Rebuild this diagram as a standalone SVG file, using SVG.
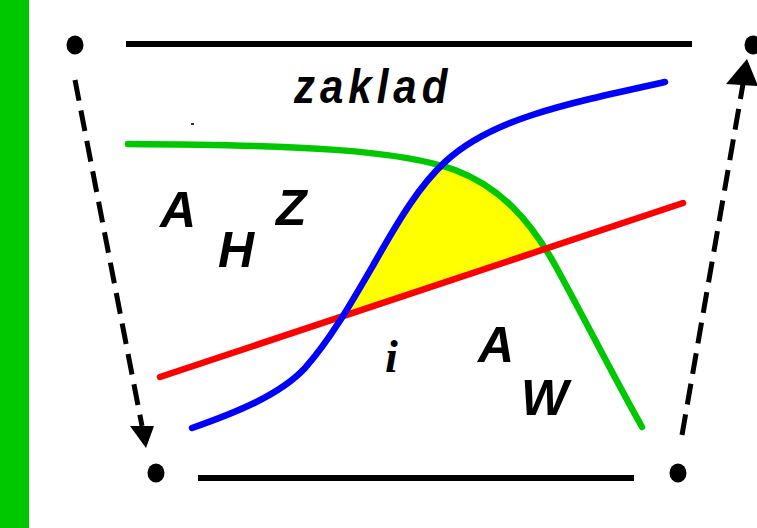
<svg xmlns="http://www.w3.org/2000/svg" width="757" height="528" viewBox="0 0 757 528">
  <style>
    .lbl { font-family: "Liberation Sans", Arial, sans-serif; font-weight: bold; font-style: italic; fill: #000; }
    .big { font-size: 50px; }
    .dash { fill: none; stroke: #000; stroke-width: 5; stroke-dasharray: 21 10; }
    .bar { stroke: #000; stroke-width: 6; }
    .curve { fill: none; stroke-width: 6.5; stroke-linecap: round; }
    .dot { fill: #000; }
  </style>
  <rect width="757" height="528" fill="#fff"/>
  <rect id="side-bar" x="0" y="0" width="29" height="528" fill="#00c800"/>

  <g id="top-line"><line class="bar" x1="126" y1="44" x2="692" y2="44"/></g>
  <g id="bottom-line"><line class="bar" x1="198" y1="478" x2="634" y2="478"/></g>

  <g id="dot-tl"><ellipse class="dot" cx="75" cy="45" rx="8.5" ry="9.5"/></g>
  <g id="dot-tr"><ellipse class="dot" cx="753" cy="45" rx="8.5" ry="9.5"/></g>
  <g id="dot-bl"><ellipse class="dot" cx="156" cy="473" rx="8.5" ry="9.5"/></g>
  <g id="dot-br"><ellipse class="dot" cx="678" cy="473" rx="8.5" ry="9.5"/></g>

  <g id="yellow-region">
    <path d="M346,316 Q360,289 375,262 C400,218 420,185 445,162 L455,170 C500,187 530,220 546,248 Z" fill="#ffff00"/>
  </g>

  <g id="green-curve"><path class="curve" stroke="#00c800" d="M128,144 C300,145 400,150 455,170 C500,187 530,220 555,265 C580,310 610,370 642,427"/></g>
  <g id="red-line"><line class="curve" stroke="#ff0000" stroke-linecap="butt" x1="160" y1="377" x2="683" y2="203" stroke-width="7"/></g>
  <g id="blue-curve"><path class="curve" stroke="#0000ff" d="M192,428 C235,413 280,395 305,368 C330,340 350,305 375,262 C400,218 420,185 445,162 C490,120 560,105 665,82"/></g>

  <g id="connectors">
    <line class="dash" x1="75" y1="80" x2="142" y2="426"/>
    <polygon points="146,448 130,426 154,426" fill="#000"/>
    <line class="dash" x1="682" y1="435" x2="743" y2="84"/>
    <polygon points="747,59 726,84 758,86" fill="#000"/>
  </g>

  <g id="labels">
    <text class="lbl" x="294" y="103" font-size="42" letter-spacing="5" transform="translate(0,103) scale(1,1.15) translate(0,-103)">zaklad</text>
    <text class="lbl big" x="160" y="227">A</text>
    <text class="lbl big" x="276" y="225">Z</text>
    <text class="lbl big" x="218" y="267">H</text>
    <text x="385" y="372" font-family="'Liberation Serif', 'Times New Roman', serif" font-weight="bold" font-style="italic" font-size="46">i</text>
    <text class="lbl big" x="478" y="362">A</text>
    <text class="lbl big" x="521" y="415">W</text>
  </g>
  <rect x="191" y="123" width="3" height="2" fill="#333"/>
</svg>
